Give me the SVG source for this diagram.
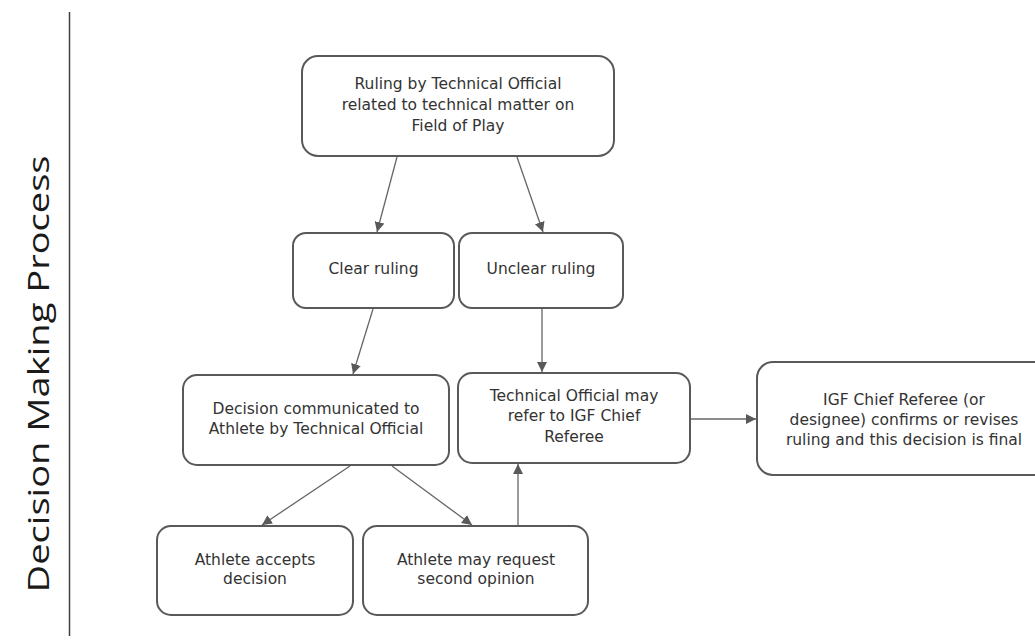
<svg xmlns="http://www.w3.org/2000/svg" width="1035" height="642" viewBox="0 0 1035 642">
<defs>
<marker id="ah" viewBox="0 0 10 10" refX="10" refY="5" markerWidth="10" markerHeight="10" markerUnits="userSpaceOnUse" orient="auto">
<path d="M0,0 L10,5 L0,10 Z" fill="#595959"/>
</marker>
<style>
.box{fill:#ffffff;stroke:#595959;stroke-width:2}
.t{font-family:"DejaVu Sans",Verdana,sans-serif;font-size:15.5px;fill:#333333;text-anchor:middle}
.c{stroke:#666666;stroke-width:1.3;fill:none;marker-end:url(#ah)}
</style>
</defs>
<rect width="1035" height="642" fill="#ffffff"/>
<g id="lane">
<line x1="69.5" y1="12" x2="69.5" y2="636" stroke="#404040" stroke-width="1.5"/>
<text transform="translate(49,374) rotate(-90)" font-family="Open Sans, sans-serif" font-size="29" fill="#1a1a1a" text-anchor="middle" textLength="437" lengthAdjust="spacingAndGlyphs">Decision Making Process</text>
</g>
<g id="n1">
<rect class="box" x="302" y="56" width="312" height="100" rx="16"/>
<text class="t" x="458" y="89">Ruling by Technical Official</text>
<text class="t" x="458" y="110">related to technical matter on</text>
<text class="t" x="458" y="131">Field of Play</text>
</g>
<g id="n2">
<rect class="box" x="293" y="233" width="161" height="75" rx="13"/>
<text class="t" x="373.5" y="273.5">Clear ruling</text>
</g>
<g id="n3">
<rect class="box" x="459" y="233" width="164" height="75" rx="13"/>
<text class="t" x="541" y="273.5">Unclear ruling</text>
</g>
<g id="n4">
<rect class="box" x="183" y="375" width="266" height="90" rx="14"/>
<text class="t" x="316" y="413.5">Decision communicated to</text>
<text class="t" x="316" y="434">Athlete by Technical Official</text>
</g>
<g id="n5">
<rect class="box" x="458" y="373" width="232" height="90" rx="14"/>
<text class="t" x="574" y="400.5">Technical Official may</text>
<text class="t" x="574" y="421">refer to IGF Chief</text>
<text class="t" x="574" y="442">Referee</text>
</g>
<g id="n6">
<rect class="box" x="757" y="362" width="294" height="113" rx="16"/>
<text class="t" x="904" y="405">IGF Chief Referee (or</text>
<text class="t" x="904" y="425">designee) confirms or revises</text>
<text class="t" x="904" y="445">ruling and this decision is final</text>
</g>
<g id="n7">
<rect class="box" x="157" y="526" width="196" height="89" rx="14"/>
<text class="t" x="255" y="564.5">Athlete accepts</text>
<text class="t" x="255" y="584">decision</text>
</g>
<g id="n8">
<rect class="box" x="363" y="526" width="225" height="89" rx="14"/>
<text class="t" x="476" y="564.5">Athlete may request</text>
<text class="t" x="476" y="584">second opinion</text>
</g>
<g id="connectors">
<line class="c" x1="397" y1="157" x2="377" y2="232"/>
<line class="c" x1="517" y1="157" x2="543" y2="232"/>
<line class="c" x1="373" y1="309" x2="353" y2="374"/>
<line class="c" x1="542" y1="309" x2="542" y2="372"/>
<line class="c" x1="350" y1="466" x2="262" y2="525"/>
<line class="c" x1="392" y1="466" x2="472" y2="525"/>
<line class="c" x1="518" y1="525" x2="518" y2="464"/>
<line class="c" x1="691" y1="419" x2="756" y2="419"/>
</g>
</svg>
